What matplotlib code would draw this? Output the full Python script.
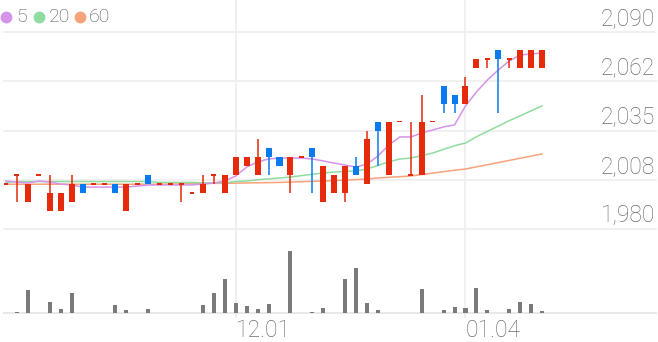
import matplotlib
matplotlib.use('Agg')
import matplotlib.pyplot as plt
import matplotlib.transforms as mtransforms

# ---------------- data ----------------
opens  = [2005, 2010, 1995, 2010, 1990, 1990, 1995, 2005, 2005, 2005,
          2005, 1990, 2005, 2010, 2005, 2005, 2005, 2000, 2000, 2010,
          2000, 2010, 2015, 2010, 2025, 2020, 2010, 2020, 2025, 1995,
          2000, 2000, 2015, 2005, 2040, 2010, 2040, 2010, 2010, 2040,
          2060, 2055, 2050, 2070, 2075, 2080, 2075, 2070, 2070, 2070]
highs  = [2005, 2010, 2005, 2010, 2010, 2000, 2010, 2005, 2005, 2005,
          2005, 2005, 2005, 2010, 2005, 2005, 2005, 2000, 2010, 2010,
          2010, 2020, 2020, 2030, 2025, 2020, 2020, 2020, 2025, 2015,
          2010, 2015, 2020, 2035, 2040, 2040, 2040, 2040, 2055, 2040,
          2060, 2055, 2065, 2075, 2075, 2080, 2075, 2080, 2080, 2080]
lows   = [2005, 1995, 1995, 2010, 1990, 1990, 1995, 2000, 2005, 2005,
          2000, 1990, 2005, 2005, 2005, 2005, 1995, 2000, 2000, 2005,
          2000, 2010, 2015, 2010, 2010, 2015, 2000, 2020, 2000, 1995,
          2000, 1995, 2010, 2005, 2015, 2010, 2040, 2010, 2010, 2040,
          2045, 2045, 2050, 2070, 2070, 2045, 2070, 2070, 2070, 2070]
closes = [2005, 2010, 2005, 2010, 2000, 2000, 2005, 2000, 2005, 2005,
          2000, 2005, 2005, 2005, 2005, 2005, 2005, 2000, 2005, 2010,
          2010, 2020, 2020, 2020, 2020, 2015, 2020, 2020, 2020, 2015,
          2010, 2015, 2010, 2030, 2035, 2040, 2040, 2010, 2040, 2040,
          2050, 2050, 2060, 2075, 2075, 2075, 2075, 2080, 2080, 2080]

ma5  = [2006.8, 2006.2, 2005.7, 2006.8, 2006.2, 2005.1, 2004.6, 2003.4, 2003.4, 2003.4,
        2003.4, 2003.4, 2004.0, 2004.6, 2004.6, 2004.6, 2004.6, 2004.6, 2005.1, 2005.7,
        2006.8, 2009.6, 2014.6, 2017.4, 2019.1, 2019.6, 2019.6, 2019.6, 2019.1, 2018.0,
        2016.8, 2015.7, 2014.6, 2016.3, 2020.8, 2026.9, 2031.4, 2031.4, 2033.6, 2035.3,
        2037.0, 2038.1, 2048.7, 2056.5, 2063.2, 2068.8, 2073.8, 2077.2, 2077.7, 2078.3]
ma20 = [2006.0, 2006.5, 2006.5, 2006.5, 2006.5, 2006.5, 2006.5, 2006.5, 2006.5, 2006.5,
        2006.5, 2006.5, 2006.5, 2006.5, 2006.0, 2006.0, 2006.0, 2006.0, 2005.8, 2005.8,
        2005.8, 2006.5, 2006.8, 2007.5, 2008.0, 2008.5, 2009.0, 2009.8, 2010.5, 2011.3,
        2011.8, 2012.2, 2012.4, 2013.5, 2015.5, 2017.5, 2019.1, 2019.6, 2021.0, 2022.4,
        2024.5, 2026.5, 2028.0, 2031.5, 2034.5, 2037.5, 2040.5, 2043.2, 2046.0, 2048.7]
ma60 = [2005.0, 2005.0, 2005.0, 2005.0, 2005.0, 2005.0, 2005.0, 2005.0, 2005.0, 2005.0,
        2005.0, 2005.0, 2005.0, 2005.0, 2005.0, 2005.1, 2005.2, 2005.3, 2005.4, 2005.5,
        2005.5, 2005.6, 2005.7, 2005.8, 2005.9, 2006.0, 2006.2, 2006.4, 2006.6, 2006.8,
        2007.0, 2007.3, 2007.6, 2007.9, 2008.5, 2008.9, 2009.2, 2009.6, 2010.4, 2011.2,
        2012.0, 2012.8, 2013.5, 2014.7, 2015.9, 2017.1, 2018.3, 2019.5, 2020.7, 2021.9]

volumes = [0, 80, 2300, 0, 1100, 400, 2000, 0, 0, 0,
           800, 300, 0, 400, 0, 0, 50, 50, 800, 2000,
           3400, 1000, 700, 400, 900, 0, 6200, 0, 100, 500,
           50, 3400, 4500, 1000, 300, 50, 50, 50, 2400, 50,
           300, 600, 500, 2500, 300, 50, 400, 1100, 900, 200]

x_tick_pos = [21, 42]
x_tick_labels = ['12.01', '01.04']
y_tick_vals = [1980, 2007.5, 2035, 2062.5, 2090]
y_tick_labels = ['1,980', '2,008', '2,035', '2,062', '2,090']
legend_labels = ['5', '20', '60']

# ---------------- style ----------------
RED = '#e62a0c'
BLUE = '#0a7bef'
C5, C20, C60 = '#d593ea', '#8fdca0', '#f6a37c'
GRID = '#eeeeee'
TXT = '#6e6e6e'
FONT = ['Roboto', 'DejaVu Sans']
plt.rcParams['font.family'] = FONT

W, H = 658, 342
fig = plt.figure(figsize=(W / 100, H / 100), dpi=100)

ax = fig.add_axes([3 / W, 1 - 232 / H, 654 / W, 232 / H])
axv = fig.add_axes([3 / W, 1 - 318 / H, 654 / W, 86 / H])

step = 10.94
xl = ((3 - 6) / step, (657 - 6) / step)
ppx = 27.5 / 49.25
ax.set_xlim(*xl)
ax.set_ylim(2090 - 200 * ppx, 2090 + 32 * ppx)
axv.set_xlim(*xl)
axv.set_ylim(-500, 8100)

for a in (ax, axv):
    for s in a.spines.values():
        s.set_visible(False)
    a.set_xticks([])
    a.set_yticks([])
    a.patch.set_alpha(0)
    for p in x_tick_pos:
        a.axvline(p, color=GRID, lw=1.2, zorder=0)

for v in y_tick_vals:
    ax.axhline(v, color=GRID, lw=1.2, zorder=0)
axv.axhline(0, color='#e4e4e4', lw=1.2, zorder=0)

idx = list(range(len(opens)))
colors = [BLUE if c < o else RED for o, c in zip(opens, closes)]

# wicks
ax.vlines(idx, lows, highs, colors=colors, lw=1.1, zorder=3)
# bodies
bottoms = [min(o, c) if o != c else o - 0.5 for o, c in zip(opens, closes)]
heights = [abs(c - o) if o != c else 1.0 for o, c in zip(opens, closes)]
widths = [0.55 if o != c else 0.45 for o, c in zip(opens, closes)]
ax.bar(idx, heights, bottom=bottoms, width=widths, color=colors, zorder=4, linewidth=0)

# moving averages
ax.plot(idx, ma60, color=C60, lw=1.1, zorder=2)
ax.plot(idx, ma20, color=C20, lw=1.1, zorder=2)
ax.plot(idx, ma5, color=C5, lw=1.1, zorder=2)

# volume
axv.bar(idx, volumes, width=0.37, color='#7a7a7a', zorder=3, linewidth=0)

# y labels
trans = mtransforms.blended_transform_factory(ax.transAxes, ax.transData)
trans = mtransforms.offset_copy(trans, fig=fig, x=0, y=7, units='dots')
for v, lab in zip(y_tick_vals, y_tick_labels):
    ax.text(652 / 654, v, lab, transform=trans, ha='right', va='baseline',
            fontsize=16.5, color=TXT, fontweight='light')

# x labels
tx = mtransforms.blended_transform_factory(ax.transData, fig.transFigure)
for p, lab in zip(x_tick_pos, x_tick_labels):
    ax.text(p + 0.5 / step, 1 - 337 / H, lab, transform=tx, ha='left', va='baseline',
            fontsize=16.5, color=TXT, fontweight='light', clip_on=False)

# legend
leg_cx = [6, 39, 80]
leg_tx = [16, 49, 89]
for cx, tx_, col, lab in zip(leg_cx, leg_tx, [C5, C20, C60], legend_labels):
    fig.lines.append(plt.Line2D([cx / W], [1 - 17 / H], marker='o', markersize=7.5,
                                color=col, transform=fig.transFigure, linestyle='none'))
    fig.text(tx_ / W, 1 - 17.5 / H, lab, ha='left', va='center', fontsize=14,
             color='#555555', fontweight='light')

fig.savefig('out.png', dpi=100, facecolor='white')
